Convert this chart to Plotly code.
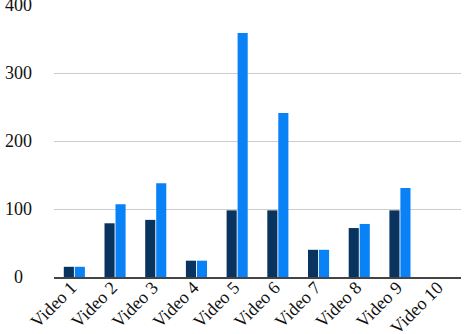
import plotly.graph_objects as go

categories = ["Video 1", "Video 2", "Video 3", "Video 4", "Video 5",
              "Video 6", "Video 7", "Video 8", "Video 9", "Video 10"]
series_a = [15, 79, 84, 24, 98, 98, 40, 72, 98, 0]
series_b = [15, 107, 138, 24, 359, 241, 40, 78, 131, 0]
y_ticks = [0, 100, 200, 300, 400]

FONT = "Liberation Serif"
# centre the y labels by padding with figure spaces to a 3-digit width
y_text = [("\u2007" * ((3 - len(str(v))) // 2)) + str(v) +
          ("\u2007" * ((3 - len(str(v)) + 1) // 2)) for v in y_ticks]

fig = go.Figure()
fig.add_trace(go.Bar(x=categories, y=series_a, marker_color="#08345f",
                     marker_line_width=0))
fig.add_trace(go.Bar(x=categories, y=series_b, marker_color="#0a82f7",
                     marker_line_width=0))

fig.update_layout(
    width=465, height=334,
    margin=dict(l=54, r=4, t=5, b=57),
    paper_bgcolor="white", plot_bgcolor="white",
    showlegend=False,
    barmode="group", bargap=0.46, bargroupgap=0.08,
    font=dict(family=FONT, size=18, color="#111"),
)
fig.update_xaxes(tickangle=-45, showgrid=False, showline=True,
                 linecolor="#444", linewidth=2, ticks="", automargin=False,
                 ticklabelstandoff=-9, ticklabelshift=-3,
                 tickfont=dict(family=FONT, size=18))
fig.update_yaxes(range=[0, 400], tickvals=y_ticks, ticktext=y_text,
                 showgrid=True, ticklabeloverflow="allow",
                 gridcolor="#cccccc", gridwidth=1, zeroline=False,
                 ticks="", ticklabelstandoff=21, automargin=False,
                 tickfont=dict(family=FONT, size=18))

fig.write_html("out.html")
